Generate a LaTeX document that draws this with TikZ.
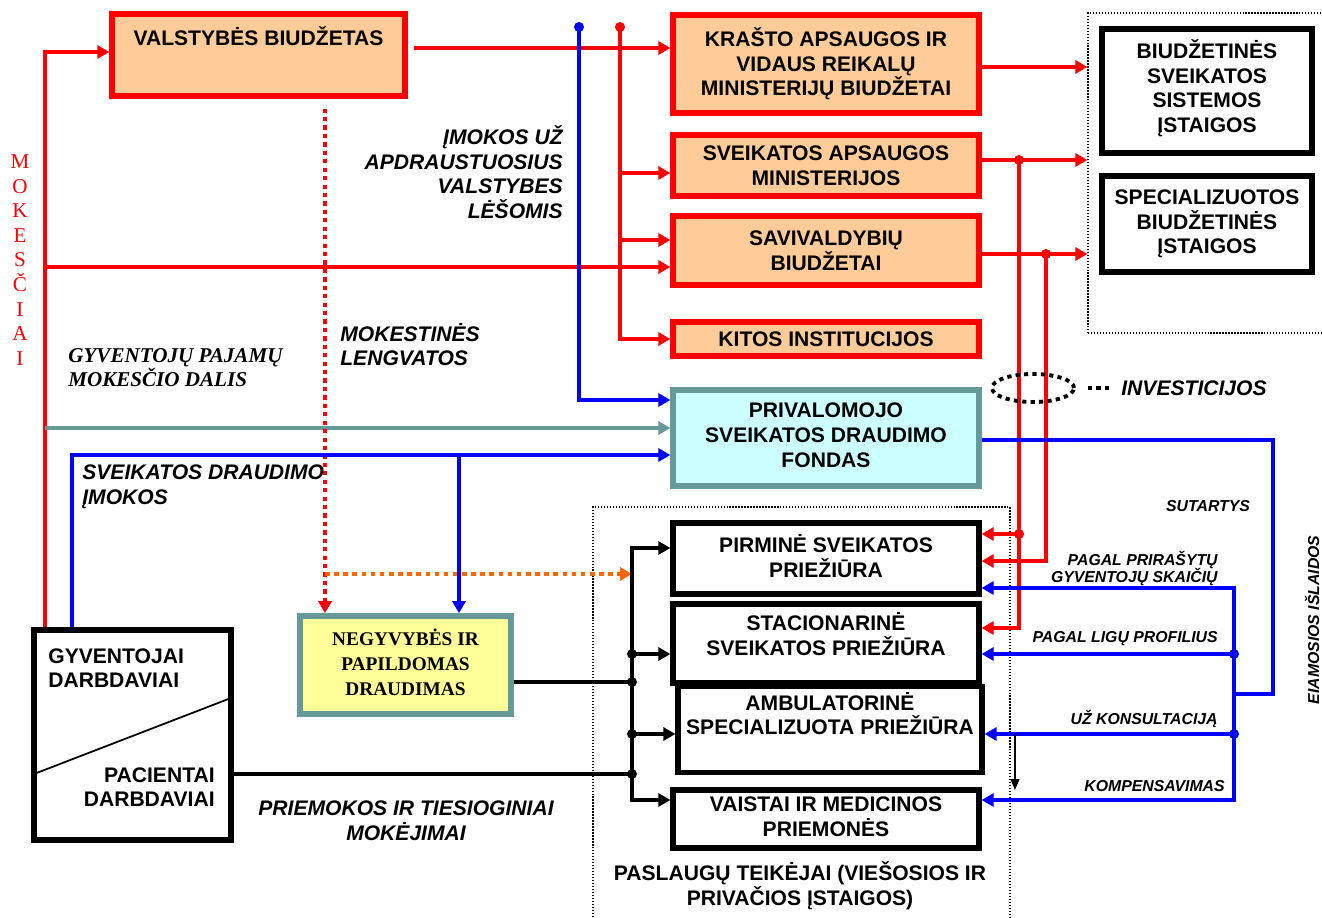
\documentclass[tikz,border=0pt]{standalone}
\usepackage{fontspec}
\setmainfont{Liberation Serif}
\setsansfont{Liberation Sans}
\usetikzlibrary{arrows.meta, shapes.geometric}
\definecolor{finred}{HTML}{FF0000}
\definecolor{finblue}{HTML}{0000FF}
\definecolor{finteal}{HTML}{669999}
\definecolor{budfill}{HTML}{FFCC99}
\definecolor{fundfill}{HTML}{CCFFFF}
\definecolor{insfill}{HTML}{FFFF99}
\definecolor{benorange}{HTML}{FF6600}
\newcommand{\boxfont}{\sffamily\bfseries\fontsize{12}{14}\selectfont}
\newcommand{\serifbox}{\rmfamily\bfseries\fontsize{11}{14}\selectfont}
\newcommand{\notefont}{\sffamily\bfseries\itshape\fontsize{12}{14}\selectfont}
\newcommand{\smallnote}{\sffamily\bfseries\itshape\fontsize{9}{10}\selectfont}
\newcommand{\serifnote}{\rmfamily\bfseries\itshape\fontsize{12}{14}\selectfont}

\begin{document}
\begin{tikzpicture}[x=0.02cm, y=-0.02cm,
  bud/.style={rectangle, draw=finred, fill=budfill, line width=3pt,
              minimum width=6.12cm, align=center, font=\boxfont},
  fund/.style={rectangle, draw=finteal, fill=fundfill, line width=3pt,
               minimum width=6.12cm, align=center, font=\boxfont},
  prov/.style={rectangle, draw=black, line width=3pt,
               minimum width=6.12cm, align=center, font=\boxfont},
  grp/.style={rectangle, draw=black, densely dotted, line width=0.7pt, inner sep=0pt},
  rln/.style={draw=finred, line width=2.2pt},
  bln/.style={draw=finblue, line width=2.2pt},
  kln/.style={draw=black, line width=2.2pt},
  tln/.style={draw=finteal, line width=2.2pt},
  oln/.style={draw=benorange, line width=2.2pt, dash pattern=on 2.6pt off 2.6pt},
  dotln/.style={dash pattern=on 2.4pt off 2.4pt},
  arr/.style={-{Triangle[length=2.4mm, width=2.6mm]}},
  note/.style={font=\notefont, inner sep=0pt},
  snote/.style={font=\smallnote, inner sep=0pt},
]
\useasboundingbox (0,0) rectangle (1322,918);
% ---- dotted groups ----
\node[grp, minimum width=4.84cm, minimum height=6.4cm] (bgrp) at (1209,173) {};
\node[grp, minimum width=8.34cm, minimum height=8.36cm] (pgrp) at (801.5,716) {};
% ---- budgets ----
\node[bud, minimum width=5.86cm, minimum height=1.64cm, text height=0.35cm, text depth=0.73cm]
  (vb) at (258.5,55) {VALSTYBĖS BIUDŽETAS};
\node[bud, minimum height=1.96cm] (ka) at (826,64) {KRAŠTO APSAUGOS IR\\VIDAUS REIKALŲ\\MINISTERIJŲ BIUDŽETAI\\[-0.4cm]\mbox{}};
\node[bud, minimum height=1.22cm] (sam) at (826,165.5) {SVEIKATOS APSAUGOS\\MINISTERIJOS};
\node[bud, minimum height=1.38cm] (sav) at (826,250.5) {SAVIVALDYBIŲ\\BIUDŽETAI};
\node[bud, minimum height=0.68cm] (kit) at (826,339) {KITOS INSTITUCIJOS};
\node[fund, minimum height=1.92cm] (psdf) at (826,438) {PRIVALOMOJO\\SVEIKATOS DRAUDIMO\\FONDAS\\[-0.38cm]\mbox{}};
% ---- budget institutions ----
\node[prov, minimum width=4.2cm, minimum height=2.48cm] (bssi) at (1207,91) {BIUDŽETINĖS\\SVEIKATOS\\SISTEMOS\\ĮSTAIGOS\\[-0.3cm]\mbox{}};
\node[prov, minimum width=4.2cm, minimum height=1.92cm] (sbi) at (1207,224) {SPECIALIZUOTOS\\BIUDŽETINĖS\\ĮSTAIGOS};
% ---- service providers ----
\node[prov, minimum height=1.42cm] (pirm) at (826,558.5) {PIRMINĖ SVEIKATOS\\PRIEŽIŪRA\\[-0.4cm]\mbox{}};
\node[prov, minimum height=1.58cm] (stac) at (826,643.5) {STACIONARINĖ\\SVEIKATOS PRIEŽIŪRA\\[-0.1cm]\mbox{}};
\node[prov, minimum width=6.08cm, minimum height=1.70cm] (amb) at (830,729.5) {AMBULATORINĖ\\SPECIALIZUOTA PRIEŽIŪRA\\[0.15cm]\mbox{}};
\node[prov, minimum height=1.16cm] (vai) at (826,819) {VAISTAI IR MEDICINOS\\PRIEMONĖS\\[-0.4cm]\mbox{}};
\node[font=\boxfont, align=center, inner sep=0pt] (pas) at (800,886) {PASLAUGŲ TEIKĖJAI (VIEŠOSIOS IR\\PRIVAČIOS ĮSTAIGOS)};
% ---- payers ----
\node[prov, minimum width=3.94cm, minimum height=4.2cm] (gyv) at (132.5,735) {};
\draw[line width=1pt] (gyv.west |- 0,775) -- (gyv.east |- 0,697);
\node[font=\boxfont, align=left, anchor=north west, inner sep=0pt] (gyvt) at (48,648) {GYVENTOJAI\\DARBDAVIAI};
\node[font=\boxfont, align=right, anchor=north east, inner sep=0pt] (gyvb) at (215,767) {PACIENTAI\\DARBDAVIAI};
\node[rectangle, draw=finteal, fill=insfill, line width=3.2pt, minimum width=4.22cm, minimum height=1.96cm,
  align=center, font=\serifbox] (neg) at (405.5,665) {NEGYVYBĖS IR\\PAPILDOMAS\\DRAUDIMAS\\[-0.38cm]\mbox{}};
% ---- taxes ----
\coordinate (tx0) at (45,267);
\coordinate (tx1) at (45,428);
\draw[rln, arr] (gyv.north -| 45,0) |- (vb.west |- 0,52);
\draw[rln, arr] (tx0) -- (sav.west |- tx0);
\draw[tln, arr] (tx1) -- (psdf.west |- tx1);
% ---- state budget outflows ----
\coordinate (rtop) at (620,27);
\coordinate (btop) at (579,27);
\coordinate (r1) at (620,173);
\coordinate (r2) at (620,240);
\draw[rln, arr, shorten <=0.12cm] (vb.east |- 0,48) -- (ka.west |- 0,48);
\draw[bln, arr] (btop) |- (psdf.west |- 0,400);
\draw[rln, arr] (rtop) |- (kit.west);
\draw[rln, arr] (r1) -- (sam.west |- r1);
\draw[rln, arr] (r2) -- (sav.west |- r2);
\fill[finred] (rtop) circle (0.1cm);
\fill[finblue] (btop) circle (0.1cm);
\draw[rln, dotln, arr, shorten <=0.2cm] (vb.south -| 325,0) -- (neg.north -| 325,0);
% ---- insurance contributions ----
\coordinate (bj) at (459,455);
\draw[bln, arr] (gyv.north -| 72,0) |- (psdf.west |- bj);
\draw[bln, arr] (bj) -- (neg.north -| bj);
% ---- direct payments to providers ----
\coordinate (kb) at (632,682);
\coordinate (ob) at (325,574);
\draw[oln, arr] (ob) -- (kb |- ob);
\draw[kln] (neg.east |- kb) -- (kb);
\draw[kln] (gyv.east |- 0,774) -- (kb |- 0,774);
\draw[kln, arr] (kb) |- (pirm.west |- 0,548);
\draw[kln, arr] (kb) |- (vai.west |- 0,800);
\draw[kln, arr] (kb |- 0,654) -- (stac.west |- 0,654);
\draw[kln, arr] (kb |- 0,734) -- (amb.west |- 0,734);
\foreach \y in {654,682,734,774} \fill (632,\y) circle (0.1cm);
% ---- ministries and municipalities ----
\coordinate (s1) at (1019,160);
\coordinate (s2) at (1046,254);
\draw[rln, arr] (ka.east |- 0,67) -- (bgrp.west |- 0,67);
\draw[rln, arr] (sam.east |- s1) -- (bgrp.west |- s1);
\draw[rln, arr] (sav.east |- s2) -- (bgrp.west |- s2);
\draw[rln, arr] (s1) |- (stac.east |- 0,628);
\draw[rln, arr] (s1 |- 0,534) -- (pirm.east |- 0,534);
\draw[rln, arr] (s2) |- (pirm.east |- 0,561);
\fill[finred] (s1) circle (0.1cm) (s2) circle (0.1cm) (1019,534) circle (0.1cm);
% ---- health insurance fund contracts ----
\coordinate (sj) at (1234,694);
\draw[bln] (psdf.east |- 0,440) -| (1273,694) -- (sj);
\draw[bln, arr] (sj) |- (pirm.east |- 0,588);
\draw[bln, arr] (sj) |- (vai.east |- 0,800);
\draw[bln, arr] (sj |- 0,654) -- (stac.east |- 0,654);
\draw[bln, arr] (sj |- 0,734) -- (amb.east |- 0,734);
\fill[finblue] (1234,654) circle (0.1cm) (1234,734) circle (0.1cm);
\coordinate (ka0) at (1015,734);
\coordinate (ka1) at (1015,790);
\draw[line width=0.8pt, -{Triangle[length=2.2mm, width=1.8mm]}] (ka0) -- (ka1);
% ---- investments ----
\node[ellipse, draw, line width=2.2pt, dotln, minimum width=1.64cm, minimum height=0.56cm] (inv) at (1033,388) {};
\node[note, anchor=west] (invl) at (1121,388) {INVESTICIJOS};
\draw[line width=2.2pt, dotln] ([xshift=-0.66cm]invl.west) -- ([xshift=-0.16cm]invl.west);
% ---- labels ----
\node[font=\rmfamily\fontsize{12}{14}\selectfont, text=finred, align=center, inner sep=0pt] (mok) at (20,260) {M\\O\\K\\E\\S\\Č\\I\\A\\I};
\node[note, align=right, anchor=east] (imok) at (563,172) {ĮMOKOS UŽ\\APDRAUSTUOSIUS\\VALSTYBES\\LĖŠOMIS};
\node[note, align=left, anchor=west] (mokl) at (340,344.5) {MOKESTINĖS\\LENGVATOS};
\node[font=\serifnote, inner sep=0pt, align=left, anchor=west] (gpm) at (68,367.5) {GYVENTOJŲ PAJAMŲ\\MOKESČIO DALIS};
\node[note, align=left, anchor=west] (sdi) at (82,487) {SVEIKATOS DRAUDIMO\\ĮMOKOS};
\node[note, align=center] (prm) at (406,820.5) {PRIEMOKOS IR TIESIOGINIAI\\MOKĖJIMAI};
\node[snote] (sut) at (1208,506) {SUTARTYS};
\node[snote, align=right, anchor=east] (pg1) at (1218,568.5) {PAGAL PRIRAŠYTŲ\\GYVENTOJŲ SKAIČIŲ};
\node[snote, anchor=east] (pg2) at (1218,639) {PAGAL LIGŲ PROFILIUS};
\node[snote, anchor=east] (pg3) at (1218,719) {UŽ KONSULTACIJĄ};
\node[snote, anchor=east] (pg4) at (1225,786) {KOMPENSAVIMAS};
\node[snote, rotate=90] (eis) at (1312,620) {EIAMOSIOS IŠLAIDOS};
\end{tikzpicture}
\end{document}
